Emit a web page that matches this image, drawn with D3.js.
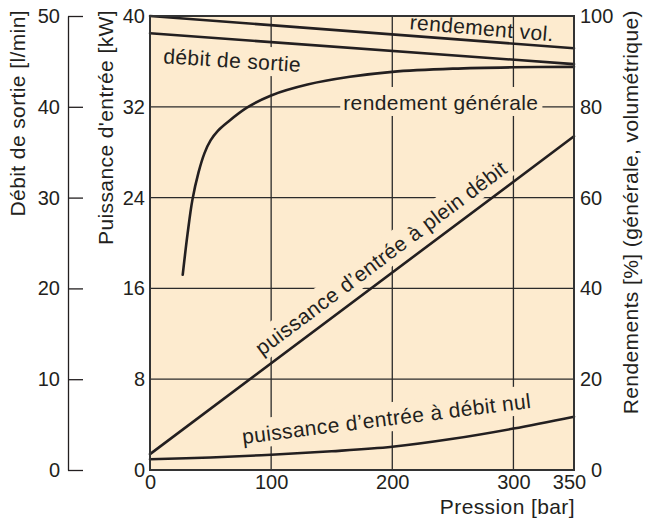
<!DOCTYPE html>
<meta charset="UTF-8">
<script src="https://d3js.org/d3.v7.min.js"></script>
<style>
  body { margin: 0; background: #fff; }
  text { font-family: "Liberation Sans", Arial, sans-serif; fill: #231f20; }
</style>
<div id="chart"></div>
<script>
// ---- data ----
const pressTicks = [0, 100, 200, 300, 350];
const kwTicks = [0, 8, 16, 24, 32, 40];
const debitTicks = [0, 10, 20, 30, 40, 50];
const pctTicks = [0, 20, 40, 60, 80, 100];

// rendement volumetrique [%]
const rendVolP = [0, 350];
const rendVolV = [100, 92.9];
// debit de sortie [l/min]
const debitP = [0, 350];
const debitV = [48.1, 44.7];
// rendement generale [%]
const rendGenP = [27, 31, 35, 40, 45, 50, 56, 64, 80, 100, 130, 165, 200, 250, 300, 350];
const rendGenV = [43, 52, 59.5, 65.5, 69.8, 72.6, 74.7, 76.6, 79.8, 82.5, 84.9, 86.6, 87.7, 88.4, 88.7, 88.8];
// puissance d'entree a plein debit [kW]
const pleinP = [0, 350];
const pleinV = [1.4, 29.4];
// puissance d'entree a debit nul [kW]
const nulP = [0, 50, 100, 150, 200, 250, 300, 350];
const nulV = [0.95, 1.1, 1.35, 1.65, 2.05, 2.75, 3.65, 4.7];

const W = 645, H = 523;
const bg = "#fdebcf", ink = "#231f20";

const svg = d3.select("#chart").append("svg")
  .attr("width", W).attr("height", H);

// scales
const x = d3.scaleLinear().domain([0, 350]).range([150, 574]);
const yKW = d3.scaleLinear().domain([0, 40]).range([470, 16]);
const yDeb = d3.scaleLinear().domain([0, 50]).range([470, 16]);
const yPct = d3.scaleLinear().domain([0, 100]).range([470, 16]);

// plot background
svg.append("rect")
  .attr("x", x(0)).attr("y", yKW(40))
  .attr("width", x(350) - x(0)).attr("height", yKW(0) - yKW(40))
  .attr("fill", bg);

// grid
const grid = svg.append("g").attr("stroke", "#2b2b2b").attr("stroke-width", 1.3);
grid.selectAll(".vg").data([100, 200, 300]).enter().append("line")
  .attr("x1", d => x(d)).attr("x2", d => x(d))
  .attr("y1", yKW(0)).attr("y2", yKW(40));
grid.selectAll(".hg").data([8, 16, 24, 32]).enter().append("line")
  .attr("x1", x(0)).attr("x2", x(350))
  .attr("y1", d => yKW(d)).attr("y2", d => yKW(d));

// labels on the curves (some with a background patch that hides the grid)
const labels = svg.append("g").style("font-size", "21px").style("letter-spacing", "0.4px");
function addLabel(txt, px, py, angle, dy, anchor, patch) {
  const g = labels.append("g")
    .attr("transform", "translate(" + px + "," + py + ") rotate(" + angle + ")");
  const t = g.append("text").attr("y", dy).attr("text-anchor", anchor).text(txt);
  if (patch) {
    const b = t.node().getBBox();
    g.insert("rect", "text")
      .attr("x", b.x - 3).attr("y", b.y - 4)
      .attr("width", b.width + 7).attr("height", b.height + 6)
      .attr("fill", bg);
  }
}
function ang(s, p0, v0, p1, v1) {
  return Math.atan2(s(v1) - s(v0), x(p1) - x(p0)) * 180 / Math.PI;
}

addLabel("rendement vol.", x(214), yPct(97.1), ang(yPct, 0, rendVolV[0], 350, rendVolV[1]) + 0.5, 0, "start", false);
addLabel("débit de sortie", x(10.7), yDeb(44.8), ang(yDeb, 0, debitV[0], 350, debitV[1]) - 0.5, 0, "start", true);
addLabel("rendement générale", x(159.5), yPct(79.3), 0, 0, "start", true);
addLabel("puissance d’entrée à plein débit", x(98), yKW(1.4 + 28 * 98 / 350),
  ang(yKW, 0, pleinV[0], 350, pleinV[1]), -11, "start", true);
addLabel("puissance d’entrée à débit nul", x(78), yKW(1.25),
  ang(yKW, 150, nulV[3], 300, nulV[6]), -12, "start", true);

// curves
const curves = svg.append("g").attr("fill", "none").attr("stroke", ink)
  .attr("stroke-width", 2.6).attr("stroke-linecap", "round");
function series(P, V) { return P.map((p, i) => [p, V[i]]); }
const lineOn = s => d3.line().x(d => x(d[0])).y(d => s(d[1])).curve(d3.curveCatmullRom.alpha(0.5));

curves.append("path").attr("d", lineOn(yPct)(series(rendVolP, rendVolV)));
curves.append("path").attr("d", lineOn(yDeb)(series(debitP, debitV)));
curves.append("path").attr("d", lineOn(yPct)(series(rendGenP, rendGenV)));
curves.append("path").attr("d", lineOn(yKW)(series(pleinP, pleinV)));
curves.append("path").attr("d", lineOn(yKW)(series(nulP, nulV)));

// plot frame
svg.append("rect")
  .attr("x", x(0)).attr("y", yKW(40))
  .attr("width", x(350) - x(0)).attr("height", yKW(0) - yKW(40))
  .attr("fill", "none").attr("stroke", "#333").attr("stroke-width", 2);

// axes
function styleAxis(g) {
  g.selectAll("text").style("font-family", "Liberation Sans, Arial, sans-serif")
    .style("font-size", "20px").attr("fill", ink);
  g.selectAll("line, path").attr("stroke", ink).attr("stroke-width", 1.3);
}

// debit de sortie axis (far left)
svg.append("g").attr("transform", "translate(68,0)")
  .call(d3.axisLeft(yDeb).tickValues(debitTicks).tickSizeInner(-15).tickSizeOuter(0).tickPadding(8))
  .call(styleAxis);

// puissance axis (plot left)
svg.append("g").attr("transform", "translate(" + x(0) + ",0)")
  .call(d3.axisLeft(yKW).tickValues(kwTicks).tickSize(0).tickPadding(5))
  .call(styleAxis)
  .call(g => g.select(".domain").remove());

// rendements axis (plot right)
svg.append("g").attr("transform", "translate(" + x(350) + ",0)")
  .call(d3.axisRight(yPct).tickValues(pctTicks).tickSize(0).tickPadding(6))
  .call(styleAxis)
  .call(g => g.select(".domain").remove())
  .call(g => g.selectAll(".tick text").filter(d => d === 0).attr("dx", 11));

// pression axis (bottom)
svg.append("g").attr("transform", "translate(0," + yKW(0) + ")")
  .call(d3.axisBottom(x).tickValues(pressTicks).tickSize(0).tickPadding(5))
  .call(styleAxis)
  .call(g => g.select(".domain").remove())
  .call(g => g.selectAll(".tick text").filter(d => d === 350).attr("dx", -5));

// axis titles
const titles = svg.append("g").style("font-size", "21px").style("letter-spacing", "0.4px");
titles.append("text").attr("transform", "translate(25,10) rotate(-90)")
  .attr("text-anchor", "end").text("Débit de sortie [l/min]");
titles.append("text").attr("transform", "translate(113,10) rotate(-90)")
  .attr("text-anchor", "end").text("Puissance d'entrée [kW]");
titles.append("text").attr("transform", "translate(638,10) rotate(-90)")
  .attr("text-anchor", "end").text("Rendements [%] (générale, volumétrique)");
titles.append("text").attr("x", 575).attr("y", 514)
  .attr("text-anchor", "end").text("Pression [bar]");
</script>
